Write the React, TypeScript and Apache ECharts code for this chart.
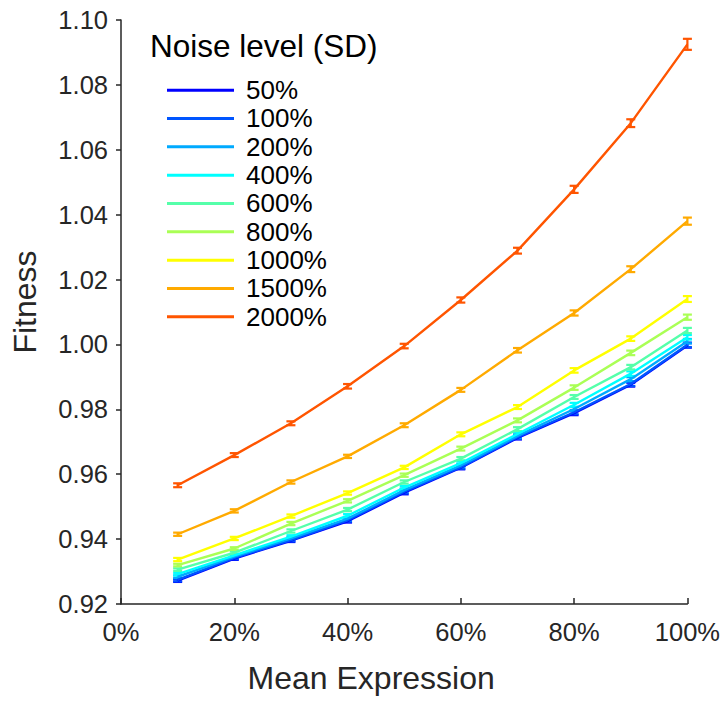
import React, { useEffect, useRef } from "react";
import * as echarts from "echarts";

const meanExpression = [10, 20, 30, 40, 50, 60, 70, 80, 90, 100];

const noiseLevels = ["50%", "100%", "200%", "400%", "600%", "800%", "1000%", "1500%", "2000%"];

const colors = ["#0000FF", "#0055FF", "#00AAFF", "#00FFFF", "#55FFAA", "#AAFF55", "#FFFF00", "#FFAA00", "#FF5500"];

const fitness50 = [0.9272, 0.934, 0.9395, 0.9455, 0.9543, 0.962, 0.9712, 0.9788, 0.9876, 0.9997];
const fitness100 = [0.9274, 0.9342, 0.9397, 0.9458, 0.9546, 0.9622, 0.9714, 0.9791, 0.9878, 0.9999];
const fitness200 = [0.9284, 0.9346, 0.9402, 0.9463, 0.9551, 0.9627, 0.9718, 0.9801, 0.9893, 1.001];
const fitness400 = [0.9292, 0.935, 0.9408, 0.9472, 0.9559, 0.9634, 0.9724, 0.9814, 0.991, 1.0022];
const fitness600 = [0.9306, 0.9358, 0.9425, 0.9491, 0.9576, 0.9648, 0.9739, 0.9838, 0.993, 1.0043];
const fitness800 = [0.932, 0.9371, 0.9448, 0.9518, 0.9597, 0.9679, 0.9766, 0.9867, 0.9974, 1.0084];
const fitness1000 = [0.9337, 0.9402, 0.9471, 0.9542, 0.9621, 0.9723, 0.9807, 0.992, 1.0018, 1.014];
const fitness1500 = [0.9415, 0.9487, 0.9576, 0.9655, 0.9751, 0.986, 0.9982, 1.0097, 1.0232, 1.038];
const fitness2000 = [0.9566, 0.9659, 0.9757, 0.9871, 0.9995, 1.0137, 1.0289, 1.0478, 1.0682, 1.0925];

const err50 = [0.0004, 0.0004, 0.0004, 0.0004, 0.0005, 0.0005, 0.0005, 0.0006, 0.0006, 0.0007];
const err100 = [0.0004, 0.0004, 0.0004, 0.0004, 0.0005, 0.0005, 0.0005, 0.0006, 0.0006, 0.0007];
const err200 = [0.0004, 0.0004, 0.0004, 0.0005, 0.0005, 0.0005, 0.0005, 0.0006, 0.0006, 0.0007];
const err400 = [0.0004, 0.0004, 0.0004, 0.0005, 0.0005, 0.0005, 0.0006, 0.0006, 0.0007, 0.0007];
const err600 = [0.0004, 0.0004, 0.0005, 0.0005, 0.0005, 0.0005, 0.0006, 0.0006, 0.0007, 0.0008];
const err800 = [0.0004, 0.0004, 0.0005, 0.0005, 0.0005, 0.0006, 0.0006, 0.0007, 0.0007, 0.0008];
const err1000 = [0.0005, 0.0005, 0.0005, 0.0005, 0.0005, 0.0006, 0.0006, 0.0007, 0.0007, 0.0009];
const err1500 = [0.0005, 0.0005, 0.0005, 0.0005, 0.0006, 0.0006, 0.0007, 0.0008, 0.0009, 0.0011];
const err2000 = [0.0006, 0.0006, 0.0006, 0.0007, 0.0007, 0.0008, 0.0009, 0.0011, 0.0012, 0.0017];

const fitnessSeries = [fitness50, fitness100, fitness200, fitness400, fitness600, fitness800, fitness1000, fitness1500, fitness2000];
const errorSeries = [err50, err100, err200, err400, err600, err800, err1000, err1500, err2000];

const FONT = "'Liberation Sans', Arial, Helvetica, sans-serif";
const AXIS_COLOR = "#262626";

export default function App() {
  const ref = useRef<HTMLDivElement>(null);

  useEffect(() => {
    if (!ref.current) return;
    const chart = echarts.init(ref.current, undefined, { renderer: "svg" });

    const series: any[] = [];
    noiseLevels.forEach((name, i) => {
      const ys = fitnessSeries[i];
      const es = errorSeries[i];
      series.push({
        type: "line",
        name,
        color: colors[i],
        data: meanExpression.map((x, j) => [x, ys[j]]),
        symbol: "none",
        lineStyle: { width: 2.4, color: colors[i] },
        emphasis: { disabled: true },
      });
      series.push({
        type: "custom",
        name: name + " err",
        data: meanExpression.map((x, j) => [x, ys[j], es[j]]),
        encode: { x: 0, y: 1 },
        clip: false,
        renderItem: (params: any, api: any) => {
          const x = api.value(0);
          const y = api.value(1);
          const e = api.value(2);
          const lo = api.coord([x, y - e]);
          const hi = api.coord([x, y + e]);
          const hw = 4.5;
          const style = { stroke: colors[i], lineWidth: 2.2 };
          return {
            type: "group",
            children: [
              { type: "line", shape: { x1: lo[0], y1: lo[1], x2: hi[0], y2: hi[1] }, style },
              { type: "line", shape: { x1: lo[0] - hw, y1: lo[1], x2: lo[0] + hw, y2: lo[1] }, style },
              { type: "line", shape: { x1: hi[0] - hw, y1: hi[1], x2: hi[0] + hw, y2: hi[1] }, style },
            ],
          };
        },
      });
    });

    chart.setOption({
      animation: false,
      backgroundColor: "#ffffff",
      textStyle: { fontFamily: FONT },
      grid: { left: 121, top: 20, width: 569, height: 584, containLabel: false },
      xAxis: {
        type: "value",
        min: 0,
        max: 100,
        interval: 20,
        name: "Mean Expression",
        nameLocation: "middle",
        nameGap: 58,
        nameTextStyle: { fontSize: 32, color: AXIS_COLOR, fontFamily: FONT, padding: [0, 66, 0, 0] },
        axisLine: { show: true, lineStyle: { color: AXIS_COLOR, width: 1.5 } },
        axisTick: { show: true, inside: true, length: 6, lineStyle: { color: AXIS_COLOR, width: 1.5 } },
        axisLabel: {
          fontSize: 25.5,
          color: AXIS_COLOR,
          margin: 15,
          fontFamily: FONT,
          formatter: (v: number) => v + "%",
        },
        splitLine: { show: false },
      },
      yAxis: {
        type: "value",
        min: 0.92,
        max: 1.1,
        interval: 0.02,
        name: "Fitness",
        nameLocation: "middle",
        nameGap: 80,
        nameRotate: 90,
        nameTextStyle: { fontSize: 32, color: AXIS_COLOR, fontFamily: FONT, padding: [0, 0, 0, 20] },
        axisLine: { show: true, lineStyle: { color: AXIS_COLOR, width: 1.5 } },
        axisTick: { show: true, inside: false, length: 5, lineStyle: { color: AXIS_COLOR, width: 1.5 } },
        axisLabel: {
          fontSize: 25.5,
          color: AXIS_COLOR,
          margin: 13,
          fontFamily: FONT,
          formatter: (v: number) => v.toFixed(2),
        },
        splitLine: { show: false },
      },
      legend: {
        data: noiseLevels,
        orient: "vertical",
        left: 167,
        top: 76,
        itemWidth: 67,
        itemHeight: 3,
        itemGap: 0,
        icon: "rect",
        padding: 0,
        textStyle: { fontSize: 26, color: "#000000", fontFamily: FONT, lineHeight: 28.33, padding: [0, 0, 0, 7] },
        selectedMode: false,
      },
      graphic: [
        {
          type: "text",
          left: 150,
          top: 30,
          style: { text: "Noise level (SD)", fontSize: 31.5, fill: "#000000", fontFamily: FONT },
        },
      ],
      series,
    });

    return () => chart.dispose();
  }, []);

  return (
    <div
      ref={ref}
      style={{ position: "fixed", left: 0, top: 0, width: 723, height: 702, background: "#fff" }}
    />
  );
}
